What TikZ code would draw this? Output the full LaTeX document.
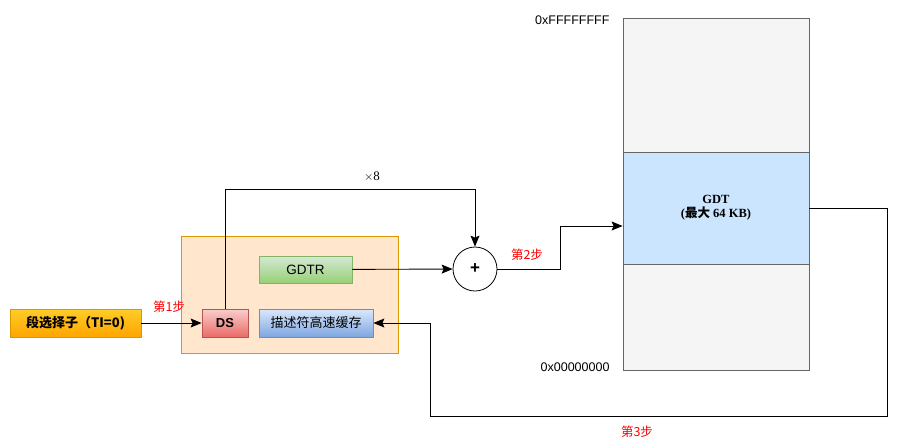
\documentclass[tikz,border=0pt]{standalone}
\usepackage{fontspec}
\setmainfont{Liberation Serif}
\setsansfont{Liberation Sans}
\newfontfamily\cjk{Noto Sans CJK SC}
\usetikzlibrary{arrows.meta}

\definecolor{selTop}{HTML}{FFCD28}
\definecolor{selBot}{HTML}{FFA500}
\definecolor{orangeLine}{HTML}{D79B00}
\definecolor{frameFill}{HTML}{FFE6CC}
\definecolor{dsTop}{HTML}{F8CECC}
\definecolor{dsBot}{HTML}{EA6B66}
\definecolor{dsLine}{HTML}{B85450}
\definecolor{cacheTop}{HTML}{DAE8FC}
\definecolor{cacheBot}{HTML}{7EA6E0}
\definecolor{cacheLine}{HTML}{6C8EBF}
\definecolor{gdtrTop}{HTML}{D5E8D4}
\definecolor{gdtrBot}{HTML}{97D077}
\definecolor{gdtrLine}{HTML}{82B366}
\definecolor{memFill}{HTML}{F5F5F5}
\definecolor{memLine}{HTML}{666666}
\definecolor{gdtFill}{HTML}{CCE5FF}

\begin{document}
\begin{tikzpicture}[x=1pt,y=-1pt,
    box/.style={draw, line width=0.8pt, minimum height=28pt, inner sep=0pt,
      font=\cjk\fontsize{13}{15}\selectfont},
    flow/.style={-{Stealth[length=11pt,width=9pt,inset=2pt]}, line width=0.9pt},
    steplabel/.style={text=red, font=\cjk\fontsize{12.5}{14}\selectfont},
    hexlabel/.style={anchor=east, font=\sffamily\fontsize{12.5}{14}\selectfont}]
    \useasboundingbox (0,0) rectangle (908,445);
    % memory column and GDT
    \node[draw=memLine, fill=memFill, line width=0.8pt, minimum width=186pt, minimum height=352pt] (mem) at (716,194) {};
    \node[draw=memLine, fill=gdtFill, line width=0.8pt, minimum width=186pt, minimum height=112pt,
      align=center, font=\bfseries\fontsize{12.5}{14}\selectfont] (gdt) at (716,208) {GDT\\({\cjk 最大} 64 KB)};
    \node[hexlabel] (hexhigh) at (613,20) {0xFFFFFFFF};
    \node[hexlabel] (hexlow) at (613,367) {0x00000000};
    % segment registers frame
    \node[draw=orangeLine, fill=frameFill, line width=0.8pt, minimum width=217pt, minimum height=117pt] (frame) at (289.5,294.5) {};
    \node[box, draw=orangeLine, top color=selTop, bottom color=selBot, minimum width=131pt,
      font=\cjk\bfseries\fontsize{13}{15}\selectfont] (sel) at (75.5,323) {段选择子（TI=0)};
    \node[box, draw=dsLine, top color=dsTop, bottom color=dsBot, minimum width=46pt,
      font=\sffamily\bfseries\fontsize{13}{15}\selectfont] (ds) at (225,323) {DS};
    \node[box, draw=cacheLine, top color=cacheTop, bottom color=cacheBot, minimum width=114pt] (cache) at (316,323) {描述符高速缓存};
    \node[box, draw=gdtrLine, top color=gdtrTop, bottom color=gdtrBot, minimum width=93pt, minimum height=27pt,
      font=\sffamily\fontsize{13.5}{15}\selectfont] (gdtr) at (305.5,269.5) {GDTR};
    \node[draw, circle, line width=0.8pt, minimum size=44pt, inner sep=0pt,
      font=\sffamily\bfseries\fontsize{17}{18}\selectfont] (plus) at (475,269) {+};
    % connectors
    \coordinate (bend1) at (475,189);
    \coordinate (bend2) at (560,226);
    \coordinate (bend3a) at (887,416);
    \coordinate (bend3b) at (430,416);
    \draw[flow] (sel) -- (ds);
    \draw[flow] (ds.north) |- (bend1) -- (plus.north);
    \draw[flow] (gdtr) -- (plus);
    \draw[flow] (plus.east) -| (bend2) -- (bend2 -| gdt.west);
    \draw[flow] (gdt.east) -| (bend3a) -- (bend3b) |- (cache.east);
    % labels
    \node[font=\fontsize{13}{15}\selectfont] (times) at (372,177) {$\times$8};
    \node[steplabel] (step1) at (169,307) {第1步};
    \node[steplabel] (step2) at (527,255) {第2步};
    \node[steplabel] (step3) at (637,432) {第3步};
\end{tikzpicture}
\end{document}
